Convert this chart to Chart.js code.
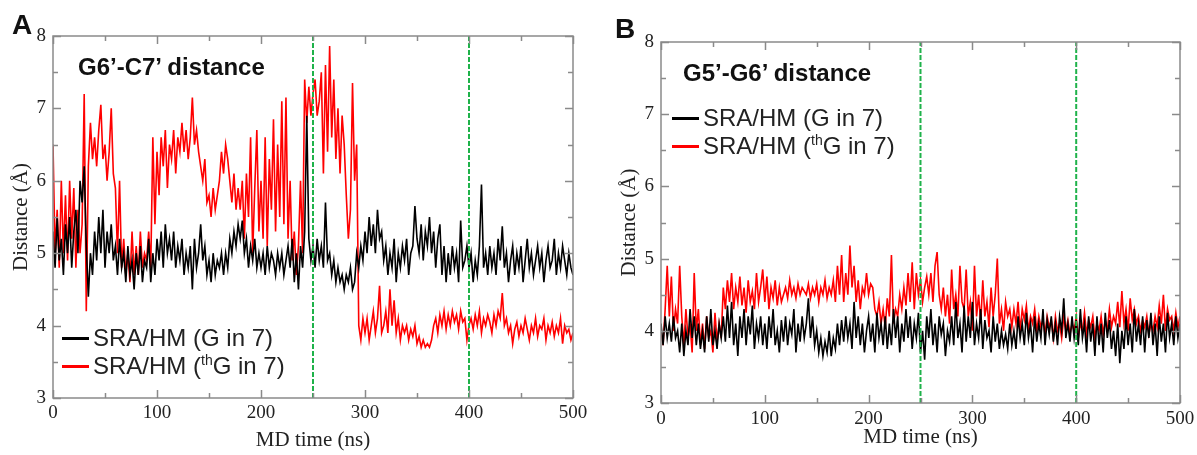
<!DOCTYPE html>
<html>
<head>
<meta charset="utf-8">
<script src="https://cdn.jsdelivr.net/npm/chart.js@4.4.1/dist/chart.umd.min.js"></script>
<style>
  html, body { margin: 0; padding: 0; background: #fff; }
  #wrap { position: relative; width: 1197px; height: 455px; overflow: hidden; }
  .panel { position: absolute; top: 0; height: 455px; }
  .tag { position: absolute; font: bold 28px "Liberation Sans", Arial, sans-serif; color: #111; line-height: 28px; }
  .ptitle { position: absolute; font: bold 24px "Liberation Sans", Arial, sans-serif; color: #111; line-height: 28px; white-space: nowrap; }
  .legend { position: absolute; font: 24px "Liberation Sans", Arial, sans-serif; color: #222; }
  .legend .row { position: relative; height: 28px; line-height: 28px; white-space: nowrap; padding-left: 31px; }
  .legend .swatch { position: absolute; left: 0; top: 13px; width: 27px; height: 3px; }
  .legend sup { font-size: 14px; line-height: 0; vertical-align: 9px; }
</style>
</head>
<body>
<div id="wrap">
  <div class="panel" style="left:0;width:590px"><canvas id="chartA"></canvas></div>
  <div class="panel" style="left:600px;width:597px"><canvas id="chartB"></canvas></div>
  <div class="tag" style="left:12px;top:11px">A</div>
  <div class="tag" style="left:615px;top:15px">B</div>
  <div class="ptitle" style="left:78px;top:53px">G6’-C7’ distance</div>
  <div class="ptitle" style="left:683px;top:59px">G5’-G6’ distance</div>
  <div class="legend" id="legendA" style="left:62px;top:324px"></div>
  <div class="legend" id="legendB" style="left:672px;top:104px"></div>
</div>
<script>
// sampling of the traces (ns between successive values)
const STEP_NS = 2;
const xTickLabels = [0, 100, 200, 300, 400, 500];
const yTickLabels = [3, 4, 5, 6, 7, 8];
const markerTimes = [250, 400];
const seriesNames = ['SRA/HM (G in 7)', 'SRA/HM (thG in 7)'];

// A: G6'-C7' distance (Å), every 2 ns
const blackA = [
  5.3,4.8,5.5,4.9,5.2,4.7,5.4,5.0,5.5,4.8,
  5.3,5.6,5.0,6.0,5.7,6.2,5.1,4.4,5.0,4.7,
  5.3,4.9,5.5,5.0,5.6,4.8,5.3,5.0,5.4,4.9,
  5.1,4.7,5.2,4.8,5.0,4.6,5.1,4.7,4.9,4.5,
  5.0,4.7,5.1,4.6,4.9,4.8,5.2,4.6,5.0,4.7,
  5.2,4.9,5.3,4.8,5.4,5.0,5.2,4.9,5.3,4.8,
  5.1,4.9,5.2,4.7,5.0,4.8,5.1,4.5,5.2,4.8,
  5.0,5.4,4.9,5.1,4.7,4.9,4.6,5.0,4.7,4.9,
  4.8,5.0,4.7,5.0,4.8,5.2,5.0,5.3,5.1,5.4,
  5.2,5.45,5.0,5.2,4.8,5.1,4.9,5.2,4.8,5.0,
  4.8,5.0,4.7,5.1,4.8,5.0,4.9,4.7,5.0,4.8,
  5.0,4.7,4.9,5.1,4.8,5.2,4.6,5.0,4.5,5.1,
  4.8,5.3,6.9,5.2,4.9,5.1,4.8,5.2,4.9,5.1,
  4.8,5.7,4.9,5.0,4.7,4.9,4.6,4.8,4.6,4.7,
  4.5,4.7,4.6,4.8,4.5,4.6,5.0,4.8,5.1,4.9,
  5.3,5.0,5.5,5.1,5.4,5.0,5.6,5.2,5.3,4.9,
  5.1,4.7,5.0,4.8,5.2,4.6,5.0,4.8,5.1,4.9,
  5.2,4.7,5.0,5.1,5.65,5.2,5.0,5.4,4.9,5.3,
  5.1,5.5,5.0,5.3,4.8,5.2,5.4,4.7,5.1,4.6,
  5.0,4.7,5.1,4.8,5.0,4.6,5.45,4.8,4.9,5.1,
  4.8,5.0,4.6,4.9,4.7,5.1,5.95,4.8,5.0,4.7,
  5.1,4.8,5.0,4.7,5.2,4.9,5.37,4.8,5.0,4.6,
  4.9,5.1,4.7,5.0,4.8,5.1,4.6,4.9,5.2,4.8,
  5.0,4.7,4.9,5.1,4.8,5.0,4.6,4.9,5.1,4.8,
  4.9,5.2,4.7,5.0,4.8,5.1,4.9,4.7,5.0,4.8,
  4.7
];
const redA = [
  6.5,5.0,5.6,4.8,6.0,5.0,5.8,4.9,6.0,5.2,
  5.9,4.8,5.6,5.0,5.4,7.2,4.2,6.2,6.8,6.3,
  6.6,6.2,6.7,7.05,6.3,6.5,6.0,6.4,7.0,6.1,
  5.9,5.0,6.0,4.8,5.2,4.7,5.0,4.6,5.3,4.7,
  5.1,4.7,5.3,4.8,5.0,4.9,5.3,4.8,6.6,5.4,
  6.4,5.8,6.6,6.2,6.7,5.9,6.5,6.3,6.7,6.1,
  6.6,6.4,6.8,6.4,6.7,6.3,6.6,7.15,6.5,6.7,
  6.4,6.2,6.0,6.3,5.7,5.8,5.5,5.9,5.6,5.8,
  6.0,6.4,6.1,6.5,6.3,6.0,5.7,6.1,5.6,5.9,
  5.6,6.0,5.2,6.1,5.5,6.6,5.0,5.9,6.7,5.3,
  6.0,5.2,6.6,5.1,6.3,5.6,6.85,5.3,6.5,5.5,
  7.1,5.4,7.15,5.2,6.0,4.9,5.3,4.7,5.1,6.0,
  5.0,7.4,6.8,7.3,6.9,7.2,7.4,6.9,7.1,7.5,
  6.1,7.6,6.4,7.86,6.6,7.4,6.3,7.0,6.1,6.9,
  6.5,5.8,5.2,5.6,7.35,6.0,6.5,4.0,3.8,4.1,
  3.9,4.1,3.8,4.0,4.2,3.9,4.1,4.55,3.9,4.0,
  4.2,3.9,4.5,4.0,4.35,3.9,4.1,3.8,4.0,3.9,
  4.0,3.8,3.95,3.85,4.0,3.75,3.85,3.7,3.8,3.7,
  3.75,3.7,3.8,4.0,4.1,3.9,4.15,4.0,4.2,3.95,
  4.15,4.0,4.2,4.05,4.15,3.95,4.2,4.05,4.1,3.8,
  4.0,4.1,3.95,4.15,4.0,4.2,3.9,4.1,4.0,4.15,
  4.05,3.9,4.15,4.0,4.2,4.1,4.45,4.0,4.1,3.9,
  4.0,3.75,3.95,4.05,3.85,4.0,3.9,4.1,3.95,3.8,
  4.0,3.9,4.1,3.85,4.0,3.95,4.1,3.8,4.0,3.9,
  4.05,3.85,4.0,3.9,4.1,3.75,4.0,3.9,3.95,3.8,
  3.9
];

// B: G5'-G6' distance (Å), same sampling
const blackB = [
  4.1,3.8,4.2,3.9,4.1,3.85,4.2,3.9,4.0,3.7,
  4.1,3.65,4.0,3.8,4.3,3.9,4.2,3.8,4.1,3.75,
  4.0,3.7,4.2,3.85,4.3,3.8,4.0,3.75,4.1,3.9,
  4.2,3.85,4.35,3.9,4.4,3.8,4.1,3.65,4.2,3.9,
  4.3,3.8,4.2,3.95,4.35,3.75,4.1,3.9,4.2,3.8,
  4.1,3.75,4.2,3.9,4.3,3.8,4.0,3.7,4.15,3.85,
  4.2,3.8,4.1,3.95,4.3,3.7,4.1,3.85,4.2,3.9,
  4.1,4.45,3.9,4.2,3.8,4.0,3.7,3.9,3.65,3.85,
  3.7,4.0,3.65,3.9,3.75,4.1,3.8,4.15,3.85,4.2,
  3.9,4.1,3.75,4.4,3.9,4.2,3.8,4.1,3.7,4.0,
  4.2,3.85,4.1,3.7,4.25,3.9,4.1,3.8,4.2,3.75,
  4.1,3.8,4.3,3.9,4.2,3.7,4.1,3.85,4.3,3.9,
  4.2,3.75,4.1,3.9,4.25,3.7,4.0,3.6,4.2,3.9,
  4.3,3.8,4.1,3.7,4.2,3.95,4.1,3.65,4.0,3.85,
  4.2,3.8,4.4,3.9,4.1,3.7,4.35,3.85,4.2,3.9,
  4.4,3.8,4.1,3.9,4.3,3.75,4.15,3.9,4.0,3.7,
  4.2,3.85,4.1,3.75,4.0,3.8,3.95,3.75,4.1,3.8,
  4.0,3.75,4.2,3.9,4.1,3.8,4.25,3.9,4.1,3.7,
  4.2,3.85,4.1,3.9,4.3,3.8,4.15,3.95,4.2,3.85,
  4.1,3.8,4.2,4.0,4.45,3.9,4.1,3.85,4.2,3.9,
  4.15,3.8,4.3,3.9,4.1,3.7,4.2,3.85,4.1,3.65,
  4.2,3.8,4.1,3.7,4.25,3.9,4.15,3.75,4.0,3.65,
  4.1,3.55,4.0,3.75,4.2,3.8,4.1,3.7,4.3,3.85,
  4.1,3.8,4.2,3.7,4.15,3.9,4.25,3.8,4.1,3.65,
  4.2,3.85,4.1,3.7,4.25,3.9,4.1,3.8,4.2,3.9,
  4.1
];
const redB = [
  4.0,3.8,4.3,4.9,4.2,4.75,4.0,4.3,4.1,4.9,
  4.2,3.8,4.3,3.9,4.1,3.7,4.8,4.0,4.3,3.8,
  4.1,3.75,4.2,3.9,4.0,3.7,4.25,3.85,4.1,3.9,
  4.6,4.3,4.7,4.4,4.8,4.3,4.6,4.4,4.75,4.35,
  4.6,4.25,4.7,4.4,4.55,4.3,4.8,4.4,4.6,4.85,
  4.4,4.75,4.3,4.6,4.45,4.7,4.35,4.6,4.4,4.5,
  4.6,4.45,4.7,4.5,4.6,4.45,4.65,4.5,4.6,4.55,
  4.5,4.65,4.45,4.6,4.5,4.65,4.4,4.6,4.5,4.7,
  4.45,4.6,4.5,4.7,4.4,4.9,4.5,5.05,4.4,4.8,
  4.5,5.18,4.6,4.9,4.4,4.7,4.3,4.6,4.5,4.8,
  4.5,4.65,4.6,4.3,4.2,4.4,4.1,4.3,4.05,4.45,
  4.2,5.05,4.1,4.3,4.2,4.5,4.3,4.6,4.35,4.8,
  4.4,4.95,4.3,4.8,4.5,4.7,4.4,4.6,4.75,4.5,
  4.8,4.4,4.9,5.09,4.5,4.3,4.6,4.2,4.5,4.1,
  4.85,4.3,4.5,4.2,4.9,4.4,4.3,4.85,4.2,4.4,
  4.0,4.9,4.2,4.5,4.1,4.7,4.2,4.4,4.05,4.6,
  4.2,4.5,5.0,4.1,4.3,4.0,4.4,4.2,4.3,4.05,
  4.3,4.1,4.4,4.0,4.3,4.15,4.35,4.0,4.2,4.1,
  4.3,4.0,4.2,4.05,4.15,3.95,4.2,4.05,4.15,3.9,
  4.2,4.0,4.1,3.9,4.2,4.0,4.15,3.95,4.1,4.0,
  4.2,3.9,4.1,4.0,4.25,3.95,4.15,4.05,4.2,3.9,
  4.1,4.0,4.2,3.95,4.15,4.0,4.3,4.05,4.2,4.1,
  4.4,4.05,4.55,4.1,4.3,4.0,4.45,4.15,4.3,4.1,
  4.2,4.0,4.15,4.05,4.2,3.95,4.1,4.0,4.2,4.05,
  4.35,4.1,4.5,4.0,4.3,4.15,4.2,4.0,4.25,4.05,
  4.2
];

const COL_BLACK = '#000000';
const COL_RED = '#ff0000';
const COL_GREEN = '#1fb24a';
const AXIS_GREY = '#8a8a8a';
const SERIF = '"Liberation Serif", "Times New Roman", serif';

function toPoints(values) {
  return values.map((v, i) => ({ x: i * STEP_NS, y: v }));
}

// inward ticks on all four sides plus the box frame
const frameTicks = {
  id: 'frameTicks',
  afterDatasetsDraw(chart) {
    const { ctx, chartArea: a, scales: { x, y } } = chart;
    ctx.save();
    ctx.strokeStyle = AXIS_GREY;
    ctx.lineWidth = 1.5;
    ctx.strokeRect(a.left, a.top, a.right - a.left, a.bottom - a.top);
    ctx.beginPath();
    const xs = [];
    xTickLabels.forEach((t, i) => { xs.push([t, 8]); if (i < xTickLabels.length - 1) xs.push([(t + xTickLabels[i + 1]) / 2, 5]); });
    xs.forEach(([t, len]) => {
      const px = Math.round(x.getPixelForValue(t)) + 0.5;
      ctx.moveTo(px, a.bottom); ctx.lineTo(px, a.bottom - len);
      ctx.moveTo(px, a.top); ctx.lineTo(px, a.top + len);
    });
    const ys = [];
    yTickLabels.forEach((v, i) => { ys.push([v, 8]); if (i < yTickLabels.length - 1) ys.push([(v + yTickLabels[i + 1]) / 2, 5]); });
    ys.forEach(([v, len]) => {
      const py = Math.round(y.getPixelForValue(v)) + 0.5;
      ctx.moveTo(a.left, py); ctx.lineTo(a.left + len, py);
      ctx.moveTo(a.right, py); ctx.lineTo(a.right - len, py);
    });
    ctx.stroke();
    ctx.restore();
  }
};

function makeChart(id, black, red, box) {
  const el = document.getElementById(id);
  const markers = markerTimes.map(t => ({
    data: [{ x: t, y: yTickLabels[0] }, { x: t, y: yTickLabels[yTickLabels.length - 1] }],
    borderColor: COL_GREEN,
    borderWidth: 2,
    borderDash: [5, 2],
    pointRadius: 0,
    order: 0
  }));
  return new Chart(el, {
    type: 'line',
    data: {
      datasets: [
        { label: seriesNames[0], data: toPoints(black), borderColor: COL_BLACK, borderWidth: 1.6, pointRadius: 0, tension: 0, order: 1 },
        { label: seriesNames[1], data: toPoints(red), borderColor: COL_RED, borderWidth: 1.6, pointRadius: 0, tension: 0, order: 2 },
        ...markers
      ]
    },
    options: {
      responsive: true,
      maintainAspectRatio: false,
      animation: false,
      events: [],
      layout: { padding: { left: box.padLeft, top: box.top, right: box.padRight, bottom: box.padBottom } },
      plugins: { legend: { display: false }, tooltip: { enabled: false } },
      scales: {
        x: {
          type: 'linear',
          min: xTickLabels[0],
          max: xTickLabels[xTickLabels.length - 1],
          afterBuildTicks: s => { s.ticks = xTickLabels.map(v => ({ value: v })); },
          afterFit: s => { s.height = box.xAxisH; s.paddingLeft = 0; s.paddingRight = 0; },
          grid: { display: false, drawTicks: false },
          border: { display: false },
          ticks: { color: '#222', padding: box.xPad, maxRotation: 0, font: { family: SERIF, size: 19 } },
          title: { display: true, text: 'MD time (ns)', color: '#222', padding: 0, font: { family: SERIF, size: 21 } }
        },
        y: {
          min: yTickLabels[0],
          max: yTickLabels[yTickLabels.length - 1],
          afterBuildTicks: s => { s.ticks = yTickLabels.map(v => ({ value: v })); },
          afterFit: s => { s.width = box.yAxisW; s.paddingTop = 0; s.paddingBottom = 0; },
          grid: { display: false, drawTicks: false },
          border: { display: false },
          ticks: { color: '#222', padding: 7, font: { family: SERIF, size: 19 } },
          title: { display: true, text: 'Distance (Å)', color: '#222', padding: 0, font: { family: SERIF, size: 21 } }
        }
      }
    },
    plugins: [frameTicks]
  });
}

function buildLegend(id) {
  const host = document.getElementById(id);
  const colors = [COL_BLACK, COL_RED];
  seriesNames.forEach((name, i) => {
    const row = document.createElement('div');
    row.className = 'row';
    const sw = document.createElement('span');
    sw.className = 'swatch';
    sw.style.background = colors[i];
    row.appendChild(sw);
    const txt = document.createElement('span');
    txt.innerHTML = name.replace('(thG', '(<sup>th</sup>G');
    row.appendChild(txt);
    host.appendChild(row);
  });
}

makeChart('chartA', blackA, redA, { padLeft: 9, top: 36, padRight: 17, padBottom: 2, yAxisW: 44, xAxisH: 55, xPad: 4 });
makeChart('chartB', blackB, redB, { padLeft: 17, top: 42, padRight: 17, padBottom: 5, yAxisW: 44, xAxisH: 47, xPad: 5 });
buildLegend('legendA');
buildLegend('legendB');
</script>
</body>
</html>
